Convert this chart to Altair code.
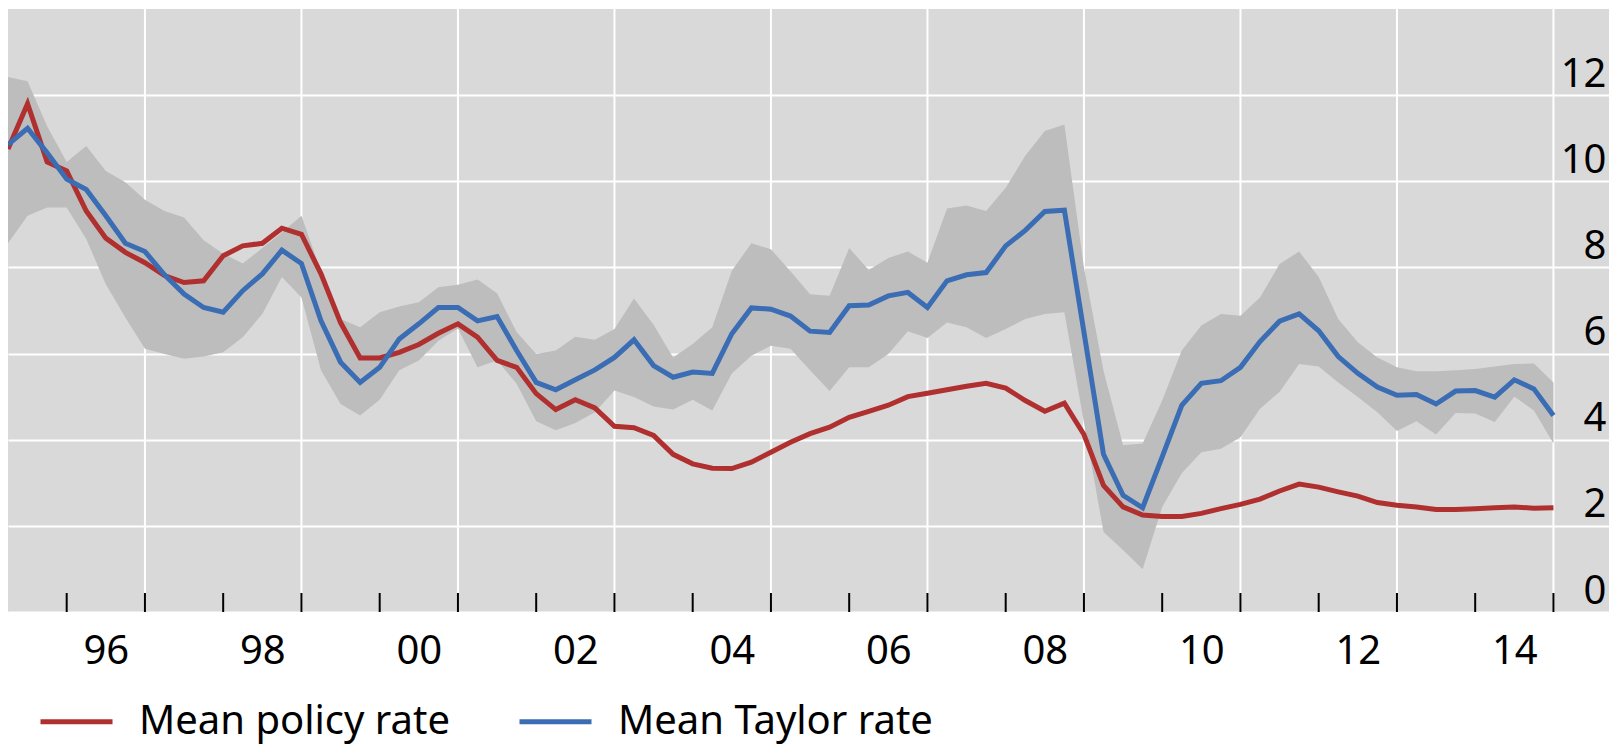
import altair as alt
import pandas as pd

# ---------------- data (quarterly, 1995Q1 .. 2014Q4) ----------------
start_year = 1995
series_names = ["Mean policy rate", "Mean Taylor rate"]
series_colors = ["#B02F2F", "#3A6DB3"]

policy_rate = [
    10.75, 11.80, 10.45, 10.24, 9.31, 8.68, 8.35, 8.11, 7.81, 7.65,
    7.69, 8.27, 8.50, 8.56, 8.91, 8.77, 7.85, 6.72, 5.90, 5.90,
    6.03, 6.21, 6.47, 6.69, 6.38, 5.84, 5.68, 5.07, 4.70, 4.93,
    4.74, 4.31, 4.28, 4.10, 3.66, 3.44, 3.34, 3.33, 3.48, 3.71,
    3.94, 4.14, 4.29, 4.52, 4.66, 4.80, 5.00, 5.08, 5.16, 5.24,
    5.31, 5.20, 4.91, 4.66, 4.85, 4.12, 2.94, 2.44, 2.25, 2.22,
    2.22, 2.29, 2.40, 2.50, 2.62, 2.81, 2.97, 2.90, 2.79, 2.69,
    2.54, 2.48, 2.44, 2.38, 2.38, 2.40, 2.42, 2.44, 2.41, 2.42,
]
taylor_rate = [
    10.85, 11.23, 10.66, 10.05, 9.81, 9.20, 8.56, 8.37, 7.83, 7.38,
    7.07, 6.96, 7.46, 7.85, 8.40, 8.09, 6.76, 5.80, 5.33, 5.68,
    6.34, 6.69, 7.07, 7.07, 6.76, 6.86, 6.07, 5.33, 5.16, 5.39,
    5.62, 5.91, 6.32, 5.72, 5.45, 5.57, 5.54, 6.46, 7.06, 7.03,
    6.87, 6.52, 6.49, 7.11, 7.13, 7.34, 7.42, 7.07, 7.69, 7.83,
    7.88, 8.50, 8.86, 9.30, 9.33, 6.50, 3.66, 2.71, 2.42, 3.60,
    4.80, 5.31, 5.37, 5.68, 6.28, 6.75, 6.92, 6.53, 5.93, 5.54,
    5.22, 5.03, 5.05, 4.83, 5.13, 5.14, 4.99, 5.39, 5.18, 4.56,
]
taylor_low = [
    8.56, 9.20, 9.39, 9.39, 8.66, 7.61, 6.84, 6.11, 5.99, 5.88,
    5.93, 6.03, 6.38, 6.92, 7.78, 7.30, 5.61, 4.83, 4.56, 4.93,
    5.61, 5.84, 6.30, 6.58, 5.68, 5.84, 5.30, 4.43, 4.22, 4.39,
    4.64, 5.14, 4.99, 4.77, 4.70, 4.93, 4.68, 5.54, 5.95, 6.18,
    6.11, 5.61, 5.13, 5.68, 5.68, 5.99, 6.52, 6.36, 6.72, 6.61,
    6.36, 6.57, 6.80, 6.92, 6.96, 4.40, 1.86, 1.44, 0.99, 2.44,
    3.22, 3.71, 3.79, 4.06, 4.72, 5.11, 5.76, 5.70, 5.33, 4.99,
    4.64, 4.20, 4.43, 4.12, 4.62, 4.61, 4.41, 5.00, 4.68, 3.91,
]
taylor_high = [
    12.42, 12.32, 11.28, 10.45, 10.82, 10.24, 9.98, 9.57, 9.31, 9.16,
    8.63, 8.32, 8.09, 8.45, 8.81, 9.20, 7.90, 6.80, 6.61, 6.96,
    7.09, 7.19, 7.54, 7.60, 7.72, 7.40, 6.50, 5.99, 6.07, 6.39,
    6.32, 6.57, 7.28, 6.67, 5.91, 6.22, 6.61, 7.92, 8.56, 8.42,
    7.91, 7.38, 7.34, 8.45, 7.94, 8.22, 8.37, 8.11, 9.37, 9.44,
    9.31, 9.85, 10.59, 11.17, 11.32, 8.00, 5.60, 3.87, 3.91, 4.91,
    6.07, 6.65, 6.92, 6.88, 7.30, 8.08, 8.37, 7.78, 6.80, 6.26,
    5.91, 5.68, 5.59, 5.59, 5.61, 5.64, 5.70, 5.76, 5.77, 5.33,
]

label_years = [1996, 1998, 2000, 2002, 2004, 2006, 2008, 2010, 2012, 2014]
year_labels = ["96", "98", "00", "02", "04", "06", "08", "10", "12", "14"]
tick_years = list(range(1996, 2016))
grid_years = list(range(1997, 2016, 2))
y_values = [0, 2, 4, 6, 8, 10, 12]

# ---------------- tables ----------------
n = len(policy_rate)
t = [start_year + (i + 1) / 4 for i in range(n)]  # quarter ends

band_df = pd.DataFrame({"t": t, "low": taylor_low, "high": taylor_high})
line_df = pd.concat([
    pd.DataFrame({"t": t, "value": policy_rate, "series": series_names[0]}),
    pd.DataFrame({"t": t, "value": taylor_rate, "series": series_names[1]}),
])
grid_df = pd.DataFrame({"t": grid_years})
tick_df = pd.DataFrame({"t": tick_years})

# ---------------- layout ----------------
W, H = 1601, 603
FONT = "Noto Sans"
FS = 40

label_pos = [y + 0.5 for y in label_years]
label_expr = (
    "[" + ",".join(f"'{s}'" for s in year_labels) + "]"
    + "[indexof([" + ",".join(str(p) for p in label_pos) + "], datum.value)]"
)

x_enc = alt.X(
    "t:Q",
    scale=alt.Scale(domain=[1995.25, 2015.71], nice=False, zero=False),
    axis=alt.Axis(
        values=label_pos, labelExpr=label_expr, grid=False, ticks=False,
        domain=False, labelFont=FONT, labelFontSize=FS, labelColor="#000000",
        labelPadding=51, labelBaseline="alphabetic", labelFlush=False,
        labelOverlap=False, title=None,
    ),
)
y_scale = alt.Scale(domain=[0, 14], nice=False, zero=True)
y_axis = alt.Axis(
    orient="right", values=y_values, grid=True, gridColor="#ffffff",
    gridWidth=2, ticks=False, domain=False, labelAlign="right",
    labelPadding=-3, labelBaseline="alphabetic", labelOffset=-9,
    labelFont=FONT, labelFontSize=FS, labelColor="#000000",
    labelFlush=False, labelOverlap=False, title=None,
)

vgrid = alt.Chart(grid_df).mark_rule(color="#ffffff", strokeWidth=2).encode(x=x_enc)

band = alt.Chart(band_df).mark_area(color="#BDBDBD", opacity=1).encode(
    x=x_enc,
    y=alt.Y("low:Q", scale=y_scale, axis=y_axis),
    y2="high:Q",
)

lines = alt.Chart(line_df).mark_line(strokeWidth=5).encode(
    x=x_enc,
    y=alt.Y("value:Q", scale=y_scale, axis=y_axis),
    color=alt.Color(
        "series:N",
        scale=alt.Scale(domain=series_names, range=series_colors),
        sort=series_names,
        legend=alt.Legend(
            orient="none", legendX=30, legendY=674, direction="horizontal",
            title=None, symbolType="stroke", symbolSize=5184,
            symbolStrokeWidth=5, labelFont=FONT, labelFontSize=FS,
            labelColor="#000000", labelOffset=24, columnPadding=59,
            labelLimit=0, padding=0,
        ),
    ),
)

ticks = alt.Chart(tick_df).mark_rule(color="#000000", strokeWidth=2).encode(
    x=x_enc, y=alt.value(H - 19), y2=alt.value(H)
)

chart = (
    alt.layer(vgrid, band, lines, ticks)
    .properties(
        width=W, height=H,
        autosize=alt.AutoSizeParams(type="none"),
        padding={"left": 0, "top": 1, "right": 0, "bottom": 137},
        background="#ffffff",
    )
    .configure_view(fill="#D9D9D9", strokeWidth=0)
)

chart.save("out.html", embed_options={"renderer": "svg", "actions": False})
